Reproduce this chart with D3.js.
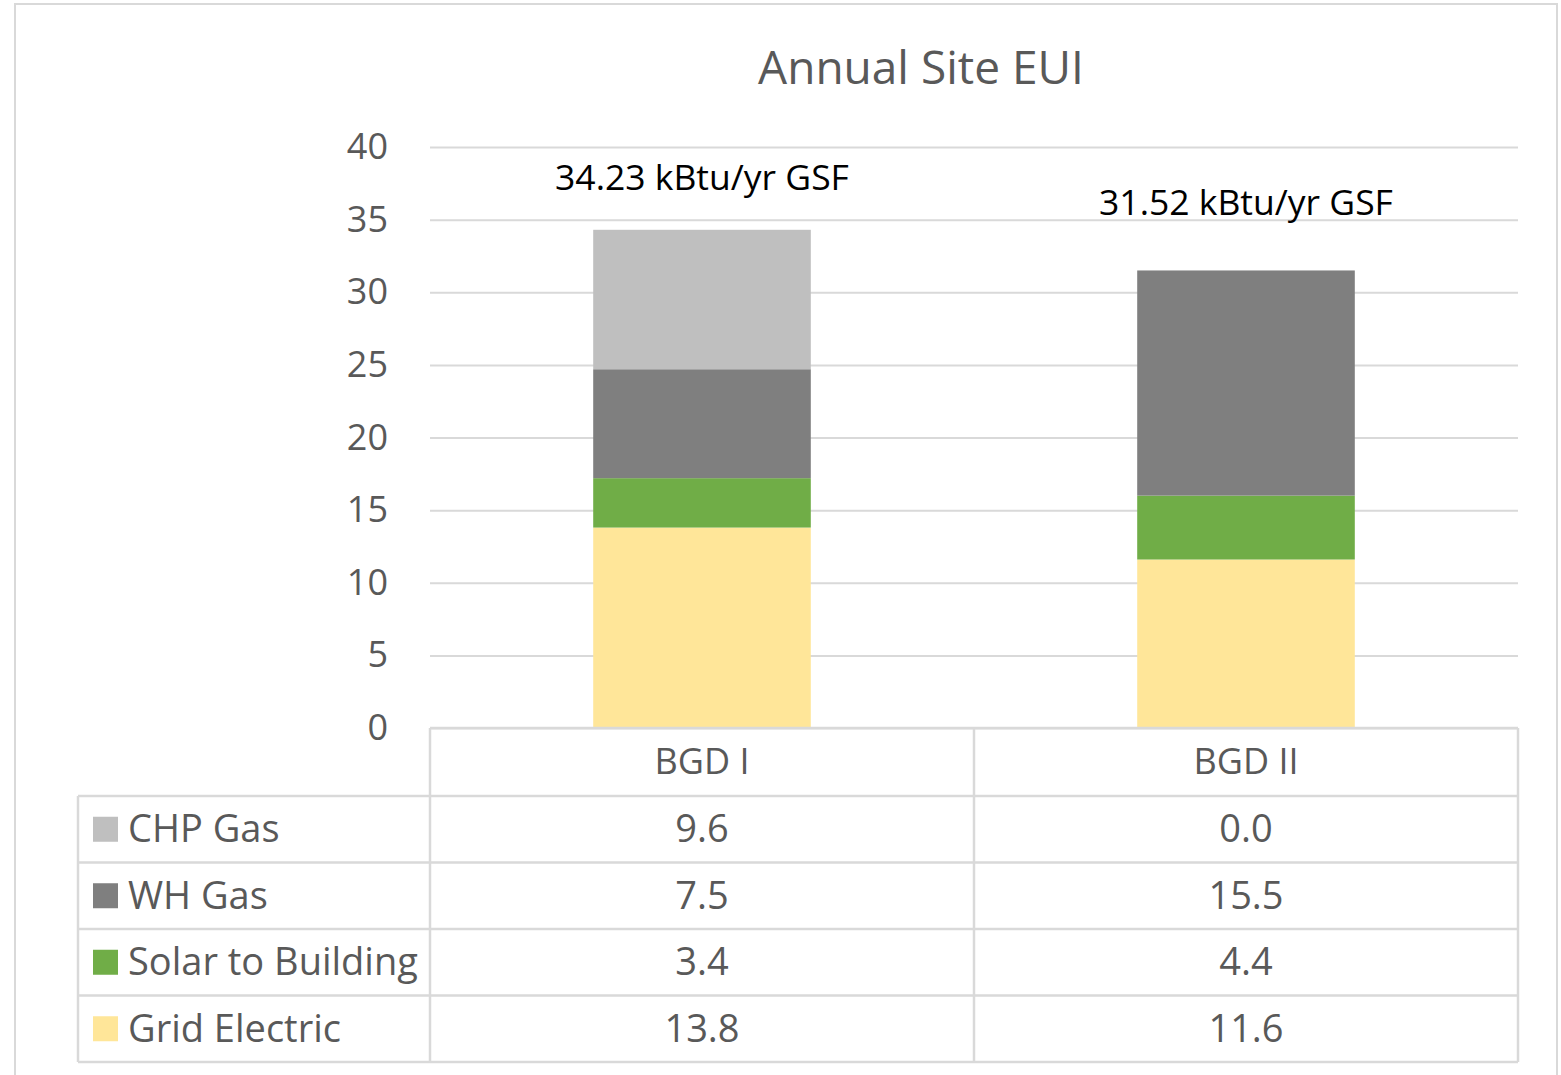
<!DOCTYPE html>
<html>
<head>
<meta charset="utf-8">
<script src="https://cdn.jsdelivr.net/npm/d3@7"></script>
<style>
  body { margin: 0; background: #fff; }
  svg { display: block; font-family: "Open Sans", Lato, sans-serif; }
</style>
</head>
<body>
<svg id="chart" width="1561" height="1075"></svg>
<script>
// data
var categories = ['BGD I', 'BGD II'];
var seriesNames = ['Grid Electric', 'Solar to Building', 'WH Gas', 'CHP Gas'];
var seriesColors = ['#ffe699', '#70ad47', '#7f7f7f', '#bfbfbf'];
var gridElectric = [13.8, 11.6];
var solarToBuilding = [3.4, 4.4];
var whGas = [7.5, 15.5];
var chpGas = [9.6, 0.0];
var totalLabels = ['34.23 kBtu/yr GSF', '31.52 kBtu/yr GSF'];
var yTicks = [0, 5, 10, 15, 20, 25, 30, 35, 40];

var svg = d3.select('#chart');
var grey = '#595959', lineCol = '#d9d9d9';

// outer frame
svg.append('rect')
	.attr('x', 15).attr('y', 4)
	.attr('width', 1542).attr('height', 1090)
	.attr('fill', 'none').attr('stroke', lineCol).attr('stroke-width', 2);

svg.append('text')
	.attr('x', 921).attr('y', 84)
	.attr('text-anchor', 'middle')
	.attr('fill', grey).attr('font-size', 46)
	.text('Annual Site EUI');

var x = d3.scaleBand().domain(categories).range([430, 1518]).paddingInner(0).paddingOuter(0);
var y = d3.scaleLinear().domain([0, 40]).range([728, 147]);

// gridlines + tick labels
var yAxis = svg.append('g').attr('transform', 'translate(430,0)')
	.call(d3.axisLeft(y).tickValues(yTicks).tickSize(-1088).tickPadding(42));
yAxis.select('.domain').remove();
yAxis.selectAll('.tick line').attr('stroke', lineCol).attr('stroke-width', 2);
yAxis.selectAll('.tick text')
	.attr('fill', grey).attr('font-size', 36)
	.attr('font-family', '"Open Sans", Lato, sans-serif');

// stacked bars
var rows = categories.map(function(c, i) {
	return {cat: c, 'Grid Electric': gridElectric[i], 'Solar to Building': solarToBuilding[i],
		'WH Gas': whGas[i], 'CHP Gas': chpGas[i]};
});
var stacked = d3.stack().keys(seriesNames)(rows);
var barW = x.bandwidth() * 0.4;

svg.append('g').selectAll('g').data(stacked).join('g')
	.attr('fill', function(d, i) { return seriesColors[i]; })
	.selectAll('rect').data(function(d) { return d; }).join('rect')
	.attr('x', function(d) { return x(d.data.cat) + (x.bandwidth() - barW) / 2; })
	.attr('width', barW)
	.attr('y', function(d) { return y(d[1]); })
	.attr('height', function(d) { return y(d[0]) - y(d[1]); });

// total labels above bars
var totals = categories.map(function(c, i) {
	return gridElectric[i] + solarToBuilding[i] + whGas[i] + chpGas[i];
});
svg.append('g').selectAll('text').data(categories).join('text')
	.attr('x', function(d) { return x(d) + x.bandwidth() / 2; })
	.attr('y', function(d, i) { return y(totals[i]) - (i == 0 ? 40 : 55); })
	.attr('text-anchor', 'middle')
	.attr('fill', '#000').attr('font-size', 35.5)
	.text(function(d, i) { return totalLabels[i]; });

// data table
var headerTop = 728, rowH = 66.5, tableLeft = 78;
var tableRight = x.range()[1];
var order = [3, 2, 1, 0]; // CHP, WH, Solar, Grid
var seriesVals = [gridElectric, solarToBuilding, whGas, chpGas];
var table = svg.append('g').attr('stroke', lineCol).attr('stroke-width', 2.5);

// header box
table.append('line').attr('x1', 430).attr('x2', tableRight).attr('y1', headerTop).attr('y2', headerTop);
order.forEach(function(s, r) {
	var yy = headerTop + 68 + r * rowH;
	table.append('line').attr('x1', tableLeft).attr('x2', tableRight).attr('y1', yy).attr('y2', yy);
});
var bottom = headerTop + 68 + order.length * rowH;
table.append('line').attr('x1', tableLeft).attr('x2', tableRight).attr('y1', bottom).attr('y2', bottom);
table.append('line').attr('x1', tableLeft).attr('x2', tableLeft).attr('y1', headerTop + 68).attr('y2', bottom);
[430, x(categories[1]), tableRight].forEach(function(xx) {
	table.append('line').attr('x1', xx).attr('x2', xx).attr('y1', headerTop).attr('y2', bottom);
});

// header labels
svg.append('g').selectAll('text').data(categories).join('text')
	.attr('x', function(d) { return x(d) + x.bandwidth() / 2; })
	.attr('y', headerTop + 46)
	.attr('text-anchor', 'middle')
	.attr('fill', grey).attr('font-size', 36)
	.text(function(d) { return d; });

// rows
order.forEach(function(s, r) {
	var top = headerTop + 68 + r * rowH;
	var g = svg.append('g');
	g.append('rect').attr('x', 93).attr('y', top + rowH / 2 - 12.5)
		.attr('width', 25).attr('height', 25).attr('fill', seriesColors[s]);
	g.append('text').attr('x', 128).attr('y', top + rowH / 2 + 13)
		.attr('fill', grey).attr('font-size', 38)
		.text(seriesNames[s]);
	g.selectAll('text.val').data(categories).join('text')
		.attr('class', 'val')
		.attr('x', function(d) { return x(d) + x.bandwidth() / 2; })
		.attr('y', top + rowH / 2 + 13)
		.attr('text-anchor', 'middle')
		.attr('fill', grey).attr('font-size', 38)
		.text(function(d, i) { return seriesVals[s][i].toFixed(1); });
});
</script>
</body>
</html>
